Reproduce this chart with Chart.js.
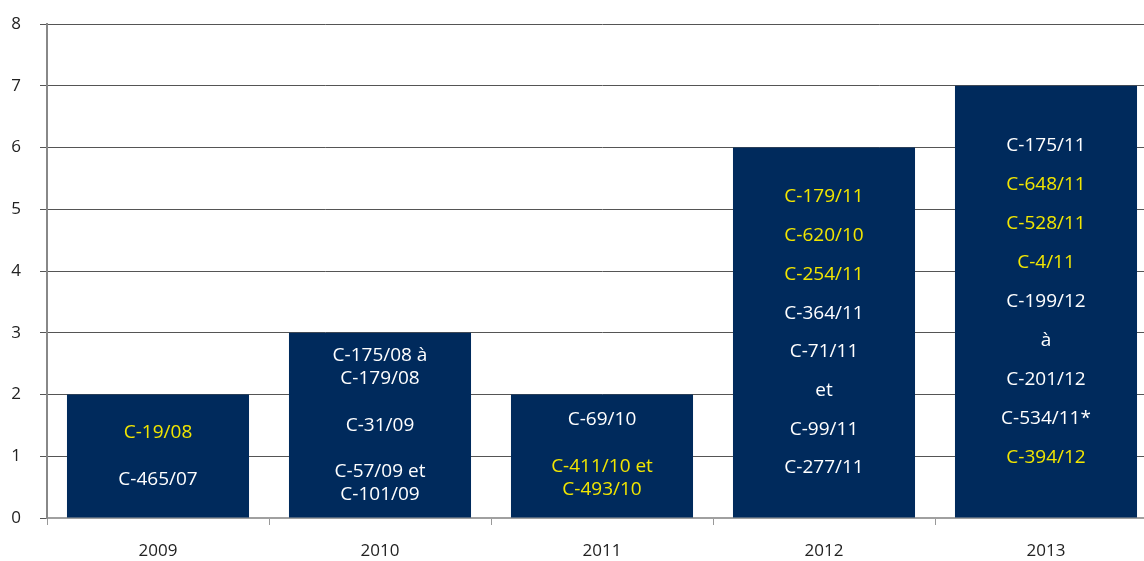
<!DOCTYPE html>
<html>
<head>
<meta charset="utf-8">
<script src="https://cdn.jsdelivr.net/npm/chart.js@4"></script>
<style>
  html, body { margin: 0; padding: 0; background: #fff; overflow: hidden; }
  #wrap { width: 1160px; height: 561px; position: relative; }
</style>
</head>
<body>
<div id="wrap"><canvas id="barras"></canvas></div>
<script>
var annees = ["2009", "2010", "2011", "2012", "2013"];
var nombre = [2, 3, 2, 6, 7];

// affaires par annee, une entree peut avoir deux lignes
var affaires = [
    ["C-19/08", "C-465/07"],
    [["C-175/08 à", "C-179/08"], "C-31/09", ["C-57/09 et", "C-101/09"]],
    ["C-69/10", ["C-411/10 et", "C-493/10"]],
    ["C-179/11", "C-620/10", "C-254/11", "C-364/11", "C-71/11", "et", "C-99/11", "C-277/11"],
    ["C-175/11", "C-648/11", "C-528/11", "C-4/11", "C-199/12", "à", "C-201/12", "C-534/11*", "C-394/12"]
];
// true = affaire en jaune
var jaune = [
    [true, false],
    [false, false, false],
    [false, true],
    [true, true, true, false, false, false, false, false],
    [false, true, true, true, false, false, false, false, true]
];

var ecart = [47, 58, 58.5, 38.7, 39];
var decale = [0, 0, -7, 0, 0];

var etiquettes = {
    id: 'etiquettes',
    afterDatasetsDraw: function(chart) {
        var ctx = chart.ctx;
        var meta = chart.getDatasetMeta(0);
        ctx.save();
        ctx.font = '19px "Open Sans"';
        ctx.textAlign = 'center';
        ctx.textBaseline = 'middle';
        meta.data.forEach(function(bar, i) {
            var lignes = affaires[i];
            var n = lignes.length;
            var centre = (bar.y + bar.base) / 2 + decale[i];
            lignes.forEach(function(ent, k) {
                var cy = centre + (k - (n - 1) / 2) * ecart[i];
                var txt = Array.isArray(ent) ? ent : [ent];
                ctx.fillStyle = jaune[i][k] ? '#f2e600' : '#ffffff';
                txt.forEach(function(t, j) {
                    ctx.fillText(t, bar.x, cy + (j - (txt.length - 1) / 2) * 23);
                });
            });
        });
        ctx.restore();
    }
};

var grafico = new Chart(document.getElementById('barras'), {
    type: 'bar',
    data: {
        labels: annees,
        datasets: [{
            data: nombre,
            backgroundColor: '#002a5c',
            barPercentage: 0.82,
            categoryPercentage: 1
        }]
    },
    options: {
        responsive: true,
        maintainAspectRatio: false,
        animation: false,
        layout: { padding: { top: 24, right: 3, left: 0, bottom: 0 } },
        plugins: {
            legend: { display: false },
            tooltip: { enabled: false }
        },
        scales: {
            x: {
                offset: true,
                grid: {
                    offset: true,
                    drawOnChartArea: false,
                    drawTicks: true,
                    tickLength: 7,
                    color: '#999999'
                },
                border: { color: '#a0a0a0', width: 2 },
                ticks: { color: '#222', font: { family: 'Open Sans', size: 17 }, padding: 16 },
                afterFit: function(s) { s.height = 43; s.paddingLeft = 0; s.paddingRight = 0; }
            },
            y: {
                min: 0,
                max: 8,
                ticks: { stepSize: 1, color: '#222', font: { family: 'Open Sans', size: 17 }, padding: 19 },
                grid: { color: '#555555', lineWidth: 1, tickLength: 7 },
                border: { color: '#888888', width: 2 },
                afterFit: function(s) { s.width = 47; s.paddingTop = 0; s.paddingBottom = 0; }
            }
        }
    },
    plugins: [etiquettes]
});
</script>
</body>
</html>
